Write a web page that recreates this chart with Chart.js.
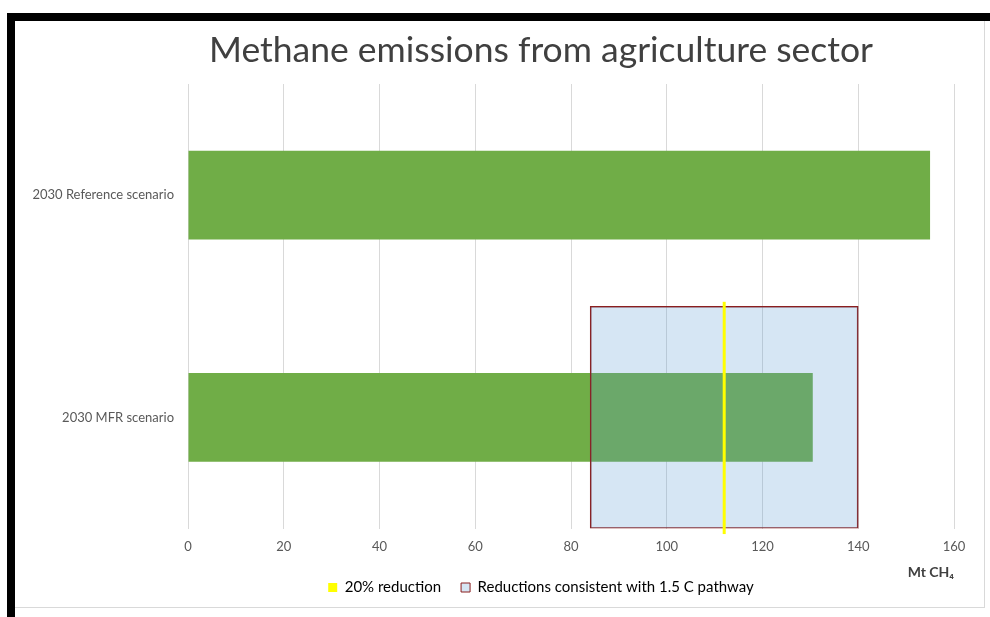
<!DOCTYPE html>
<html>
<head>
<meta charset="utf-8">
<title>Methane emissions from agriculture sector</title>
<script src="https://cdn.jsdelivr.net/npm/chart.js@4.4.1/dist/chart.umd.min.js"></script>
<style>
  html, body { margin: 0; padding: 0; overflow: hidden; background: #fff; }
  body { width: 990px; height: 617px; position: relative; }
  .bar-top { position: absolute; left: 7px; top: 13px; width: 983px; height: 8px; background: #000; }
  .bar-left { position: absolute; left: 7px; top: 13px; width: 8px; height: 604px; background: #000; }
  .frame { position: absolute; left: 15px; top: 21px; width: 970px; height: 587px; box-sizing: border-box;
           border: 1px solid #d9d9d9; border-top: none; border-left: none; }
  #chart { position: absolute; left: 15px; top: 21px; }
</style>
</head>
<body>
<div class="frame"></div>
<canvas id="chart" width="1052" height="584"></canvas>
<div class="bar-top"></div>
<div class="bar-left"></div>
<script>
// カテゴリ
var CATEGORIES = ['2030 Reference scenario', '2030 MFR scenario'];
// 排出量 (Mt CH4)
var EMISSIONS = [155, 130.5];
// 1.5C経路と整合する削減幅 (MFR行)
var PATHWAY_RANGE = [84, 140];
// 20%削減ライン (MFR行)
var REDUCTION_20 = 112;
var RANGE_ROW = 1;
// 目盛り
var X_MIN = 0;
var X_MAX = 160;
var X_STEP = 20;

var GREEN = '#70AD47';
var BOX_FILL = 'rgba(91, 155, 213, 0.25)';
var BOX_BORDER = '#8B1E1E';
var YELLOW = '#FFFF00';
var TEXT = '#595959';

Chart.defaults.font.family = 'Lato, "Liberation Sans", sans-serif';
Chart.defaults.color = TEXT;

// 削減幅の行データ
var rangeData = CATEGORIES.map(function (c, i) {
  return i === RANGE_ROW ? PATHWAY_RANGE : null;
});

// 20%削減の縦線
var reductionLine = {
  id: 'reductionLine',
  afterDatasetsDraw: function (chart) {
    var xs = chart.scales.x;
    var ys = chart.scales.y;
    var band = ys.height / CATEGORIES.length;
    var mid = ys.getPixelForValue(RANGE_ROW);
    var x = xs.getPixelForValue(REDUCTION_20);
    var ctx = chart.ctx;
    ctx.save();
    ctx.strokeStyle = YELLOW;
    ctx.lineWidth = 3;
    ctx.beginPath();
    ctx.moveTo(x, mid - band * 0.52);
    ctx.lineTo(x, mid + band * 0.525);
    ctx.stroke();
    ctx.restore();
  }
};

new Chart(document.getElementById('chart'), {
  type: 'bar',
  data: {
    labels: CATEGORIES,
    datasets: [{
      label: 'Reductions consistent with 1.5 C pathway',
      data: rangeData,
      backgroundColor: BOX_FILL,
      borderColor: BOX_BORDER,
      borderWidth: 1,
      borderSkipped: false,
      barPercentage: 1,
      categoryPercentage: 1,
      grouped: false,
      order: 1
    }, {
      label: 'Methane emissions',
      data: EMISSIONS,
      backgroundColor: GREEN,
      borderWidth: 0,
      barPercentage: 0.4,
      categoryPercentage: 1,
      grouped: false,
      order: 2
    }]
  },
  options: {
    indexAxis: 'y',
    responsive: false,
    animation: false,
    layout: { padding: 0 },
    plugins: {
      title: {
        display: true,
        text: 'Methane emissions from agriculture sector',
        color: '#404040',
        font: { size: 35.5, weight: 'normal' },
        padding: { top: 8.2, bottom: 12.2 }
      },
      legend: {
        position: 'bottom',
        labels: {
          color: TEXT,
          font: { size: 15 },
          boxWidth: 9,
          boxHeight: 9,
          padding: 20,
          generateLabels: function () {
            return [{
              text: '20% reduction',
              fillStyle: YELLOW,
              strokeStyle: YELLOW,
              lineWidth: 0
            }, {
              text: 'Reductions consistent with 1.5 C pathway',
              fillStyle: '#D6E6F4',
              strokeStyle: BOX_BORDER,
              lineWidth: 1
            }];
          }
        }
      },
      tooltip: { enabled: false }
    },
    scales: {
      x: {
        min: X_MIN,
        max: X_MAX,
        ticks: { stepSize: X_STEP, padding: 11, font: { size: 13 }, color: TEXT },
        grid: { color: '#D9D9D9', drawTicks: false },
        border: { display: false },
        title: {
          display: true,
          text: 'Mt CH₄',
          align: 'end',
          color: '#404040',
          font: { size: 14, weight: 'bold' },
          padding: { top: -2, bottom: -20.9 }
        }
      },
      y: {
        ticks: { padding: 14, font: { size: 13 }, color: TEXT },
        grid: { display: false, drawTicks: false },
        border: { display: false },
        afterFit: function (scale) { scale.width = 173; }
      },
      yRight: {
        type: 'category',
        position: 'right',
        ticks: { display: false },
        grid: { display: false, drawTicks: false },
        border: { display: false },
        afterFit: function (scale) { scale.width = 113; }
      }
    }
  },
  plugins: [reductionLine]
});
</script>
</body>
</html>
